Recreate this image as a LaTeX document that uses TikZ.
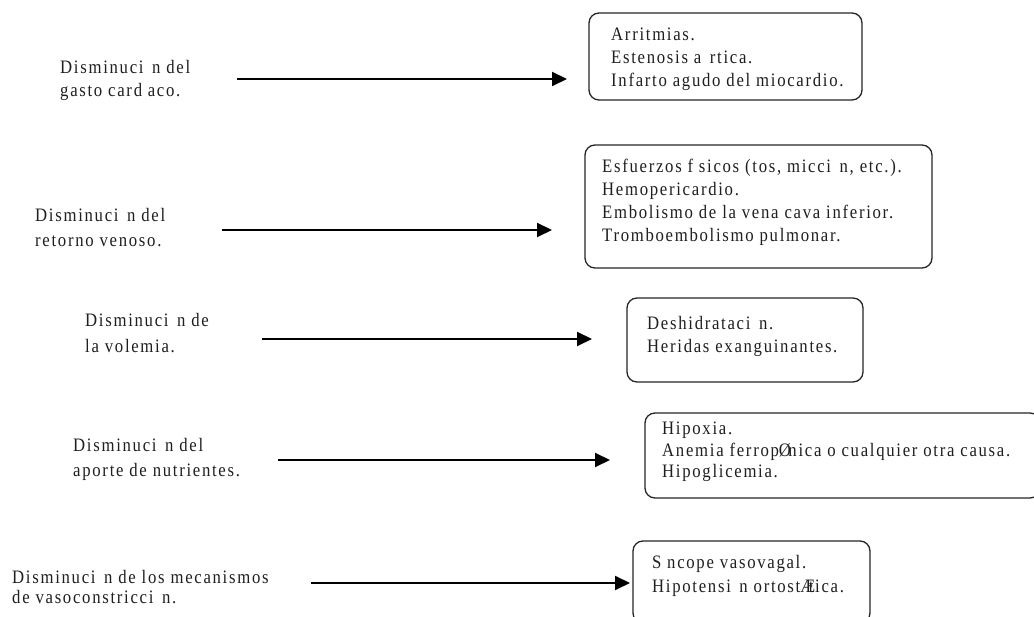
\documentclass[tikz,border=0pt]{standalone}
\usepackage{fontspec}
\setmainfont{Liberation Serif}[FakeStretch=0.88, LetterSpace=9]
\usetikzlibrary{arrows.meta}
\newcommand\gO{\hspace{0.45em}}
\newcommand\gI{\hspace{0.3em}}
\begin{document}
\begin{tikzpicture}[x=1pt,y=-1pt,
  txt/.style={anchor=base west, inner sep=0pt, align=left, text=black!88},
  sk/.style={font=\fontsize{19}{#1}\selectfont},
  box/.style={draw=black!85, line width=1.3pt, rounded corners=10pt, inner sep=0pt},
  arr/.style={line width=2pt, draw=black, -{Triangle[length=15pt,width=14pt]}}
]
\useasboundingbox[fill=white] (0,0) rectangle (1034,617);

% boxes
\node[box, minimum width=273pt, minimum height=87pt] (b1) at (725.5,56.5) {};
\node[box, minimum width=347pt, minimum height=123pt] (b2) at (758.5,206.5) {};
\node[box, minimum width=236pt, minimum height=84pt] (b3) at (745,340) {};
\node[box, minimum width=395pt, minimum height=85pt] (b4) at (842.5,455.5) {};
\node[box, minimum width=237pt, minimum height=82pt] (b5) at (751.5,582) {};

% box texts (anchor = baseline of last line)
\node[txt, sk=23] (t1) at (611,87) {Arritmias.\\Estenosis a\gO rtica.\\Infarto agudo del miocardio.};
\node[txt, sk=23] (t2) at (602,242) {Esfuerzos f\gI sicos (tos, micci\gO n, etc.).\\Hemopericardio.\\Embolismo de la vena cava inferior.\\Tromboembolismo pulmonar.};
\node[txt, sk=23] (t3) at (647,353) {Deshidrataci\gO n.\\Heridas exanguinantes.};
\node[txt, sk=21.5] (t4) at (662,478) {Hipoxia.\\Anemia ferrop\makebox[0.5em][l]{Ø}nica o cualquier otra causa.\\Hipoglicemia.};
\node[txt, sk=24] (t5) at (652,592) {S\gI ncope vasovagal.\\Hipotensi\gO n ortost\makebox[0.45em][l]{Æ}tica.};

% left labels
\node[txt, sk=23] (l1) at (60,97) {Disminuci\gO n del\\gasto card\gI aco.};
\node[txt, sk=25] (l2) at (35,247) {Disminuci\gO n del\\retorno venoso.};
\node[txt, sk=26] (l3) at (85,353) {Disminuci\gO n de\\la volemia.};
\node[txt, sk=25] (l4) at (73,477) {Disminuci\gO n del\\aporte de nutrientes.};
\node[txt, sk=20] (l5) at (12,603) {Disminuci\gO n de los mecanismos\\de vasoconstricci\gO n.};

% arrows
\coordinate (a1s) at (237,79);  \coordinate (a1e) at (567,79);
\coordinate (a2s) at (222,230); \coordinate (a2e) at (552,230);
\coordinate (a3s) at (262,339); \coordinate (a3e) at (592,339);
\coordinate (a4s) at (278,460); \coordinate (a4e) at (610,460);
\coordinate (a5s) at (311,583); \coordinate (a5e) at (630,583);
\draw[arr] (a1s) -- (a1e);
\draw[arr] (a2s) -- (a2e);
\draw[arr] (a3s) -- (a3e);
\draw[arr] (a4s) -- (a4e);
\draw[arr] (a5s) -- (a5e);
\end{tikzpicture}
\end{document}
